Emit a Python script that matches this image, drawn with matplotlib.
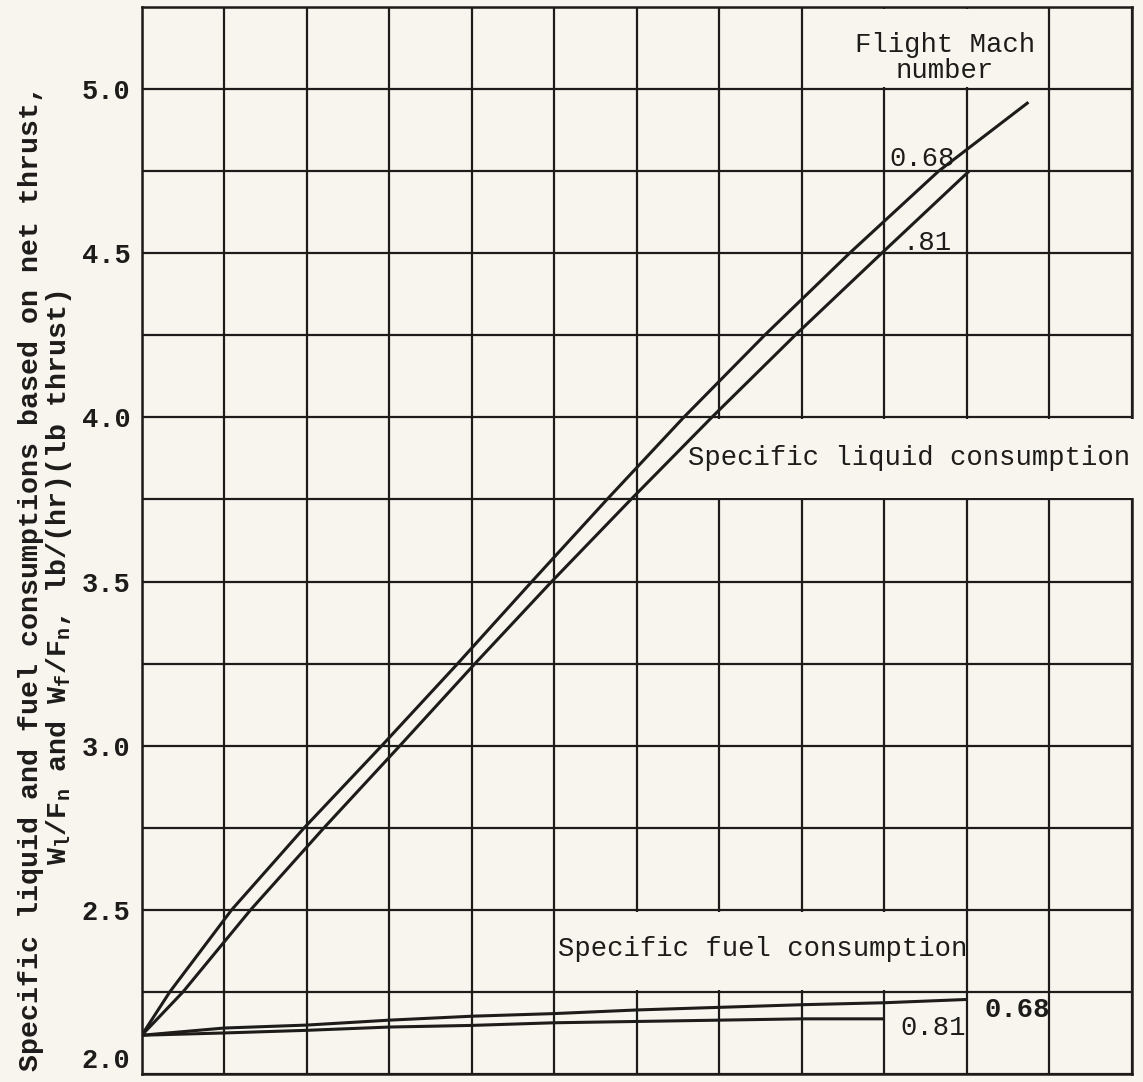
"""Specific liquid and fuel consumption vs. (unlabelled) abscissa, two flight Mach numbers."""

import matplotlib

matplotlib.use("Agg")
import matplotlib.pyplot as plt  # noqa: E402
from matplotlib.patches import Rectangle  # noqa: E402

PAPER = "#f7f5ee"
INK = "#1e1c1a"
FONT = "Liberation Mono"

# liquid consumption curves (x in grid divisions, y in lb/(hr)(lb thrust))
liquid_068_x = [0, 0.34, 1.09, 1.97, 2.91, 3.83, 4.73, 5.64, 6.57, 7.55, 8.58, 9.66, 10.75]
liquid_068_y = [2.118, 2.25, 2.5, 2.75, 3.0, 3.25, 3.5, 3.75, 4.0, 4.25, 4.5, 4.75, 4.96]
liquid_081_x = [0, 0.50, 1.32, 2.21, 3.13, 4.04, 4.97, 5.93, 6.91, 7.92, 8.97, 10.03]
liquid_081_y = [2.118, 2.25, 2.5, 2.75, 3.0, 3.25, 3.5, 3.75, 4.0, 4.25, 4.5, 4.75]

# fuel consumption curves
fuel_068_x = [0, 1, 2, 3, 4, 5, 6, 7, 8, 9, 10]
fuel_068_y = [2.118, 2.140, 2.149, 2.164, 2.176, 2.184, 2.195, 2.203, 2.211, 2.217, 2.227]
fuel_081_x = [0, 1, 2, 3, 4, 5, 6, 7, 8, 9]
fuel_081_y = [2.118, 2.125, 2.133, 2.143, 2.148, 2.156, 2.160, 2.164, 2.168, 2.168]

y_major = [2.0, 2.5, 3.0, 3.5, 4.0, 4.5, 5.0]
y_labels = ["2.0", "2.5", "3.0", "3.5", "4.0", "4.5", "5.0"]


def blank(ax, x0, x1, y0, y1):
    """Paper-coloured patch that hides the grid behind a typed label."""
    ax.add_patch(
        Rectangle(
            (x0, y0), x1 - x0, y1 - y0,
            facecolor=PAPER, edgecolor="none", zorder=3, clip_on=False,
        )
    )


fig = plt.figure(figsize=(11.43, 10.82), dpi=100, facecolor=PAPER)
ax = fig.add_axes([0.124, 0.0074, 0.866, 0.9861], facecolor=PAPER)

ax.set_xlim(0, 12)
ax.set_ylim(2.0, 5.25)
ax.set_xticks(range(13))
ax.set_xticklabels([])
ax.set_yticks([2.0 + 0.25 * i for i in range(14)], minor=True)
ax.set_yticks(y_major)
ax.set_yticklabels(y_labels, fontfamily=FONT, fontweight="bold", fontsize=19.5)
ax.get_yticklabels()[0].set_verticalalignment("bottom")
ax.tick_params(which="both", length=0, pad=8, colors=INK)
ax.set_axisbelow(True)
ax.grid(True, which="both", color=INK, linewidth=1.6)
for spine in ax.spines.values():
    spine.set_color(INK)
    spine.set_linewidth(1.8)

blank(ax, 8.04, 10.96, 5.006, 5.244)
blank(ax, 6.04, 12.15, 3.756, 3.994)
blank(ax, 5.03, 9.96, 2.256, 2.494)

line_kw = dict(color=INK, linewidth=2.2, zorder=4, solid_capstyle="butt")
ax.plot(liquid_068_x, liquid_068_y, **line_kw)
ax.plot(liquid_081_x, liquid_081_y, **line_kw)
ax.plot(fuel_068_x, fuel_068_y, **line_kw)
ax.plot(fuel_081_x, fuel_081_y, **line_kw)

text_kw = dict(fontfamily=FONT, fontsize=19.6, color=INK, zorder=5)
ax.text(9.74, 5.095, "Flight Mach\nnumber", ha="center", va="center",
        linespacing=1.0, **text_kw)
ax.text(9.06, 4.787, "0.68", ha="left", va="center", **text_kw)
ax.text(9.22, 4.53, ".81", ha="left", va="center", **text_kw)
ax.text(6.62, 3.875, "Specific liquid consumption", ha="left", va="center",
        clip_on=False, **text_kw)
ax.text(5.05, 2.38, "Specific fuel consumption", ha="left", va="center", **text_kw)
ax.text(9.2, 2.14, "0.81", ha="left", va="center", **text_kw)
ax.text(10.22, 2.195, "0.68", ha="left", va="center", fontweight="bold", **text_kw)

fig.text(
    0.040, 0.466,
    "Specific liquid and fuel consumptions based on net thrust,\n"
    r"W$_\mathregular{l}$/F$_\mathregular{n}$ and "
    r"W$_\mathregular{f}$/F$_\mathregular{n}$, lb/(hr)(lb thrust)",
    rotation=90, ha="center", va="center", multialignment="center",
    fontfamily=FONT, fontweight="bold", fontsize=20.3, color=INK,
    linespacing=1.0,
)

fig.savefig("out.png", dpi=100, facecolor=PAPER)
